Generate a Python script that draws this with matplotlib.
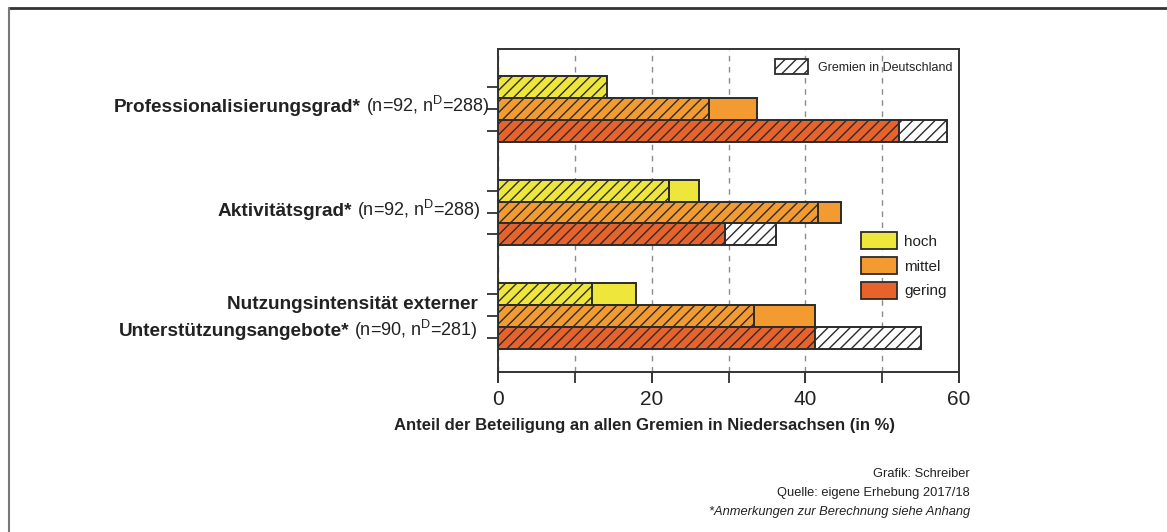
import matplotlib
matplotlib.use('Agg')
import matplotlib.pyplot as plt
from matplotlib.patches import Patch
from matplotlib.lines import Line2D

plt.rcParams['font.family'] = ['Liberation Sans', 'DejaVu Sans']
plt.rcParams['mathtext.fontset'] = 'custom'
plt.rcParams['mathtext.rm'] = 'Liberation Sans'
plt.rcParams['hatch.linewidth'] = 1.0

# data (in %)
levels = ['hoch', 'mittel', 'gering']
group_bold = ['Professionalisierungsgrad*', 'Aktivitätsgrad*', 'Unterstützungsangebote*']
group_reg = [' (n=92, n$^\\mathrm{D}$=288)', ' (n=92, n$^\\mathrm{D}$=288)', ' (n=90, n$^\\mathrm{D}$=281)']
nds = [[14.2, 33.7, 52.2],   # Niedersachsen
       [26.2, 44.7, 29.5],
       [17.9, 41.2, 41.2]]
de = [[14.2, 27.5, 58.4],    # Deutschland
      [22.2, 41.7, 36.2],
      [12.2, 33.3, 55.0]]

colors = ['#eee63a', '#f39b30', '#e8632c']
edge = '#2b2b2b'
bar_h = 0.21
hatch = '///'

W, H = 1167, 532
fig = plt.figure(figsize=(W / 100, H / 100), dpi=100)
ax = fig.add_axes([498 / W, 1 - 372 / H, (959 - 498) / W, (372 - 49) / H])

yticks = []
for g in range(3):
    for i in range(3):
        y = g + (i - 1) * bar_h
        yticks.append(y)
        n = nds[g][i]
        d = de[g][i]
        common = min(n, d)
        ax.barh(y, common, height=bar_h, color=colors[i], edgecolor=edge,
                linewidth=1.4, hatch=hatch, zorder=3)
        if n > d:
            ax.barh(y, n - d, left=d, height=bar_h, color=colors[i],
                    edgecolor=edge, linewidth=1.4, zorder=3)
        elif d > n:
            ax.barh(y, d - n, left=n, height=bar_h, color='white',
                    edgecolor=edge, linewidth=1.4, hatch=hatch, zorder=3)

ax.set_xlim(0, 60)
ax.set_ylim(2.54, -0.58)
ax.set_xticks([0, 20, 40, 60])
ax.set_xticks([10, 30, 50], minor=True)
ax.set_yticks(yticks)
ax.set_yticklabels([])
ax.xaxis.grid(True, which='both', linestyle=(0, (4, 4)), color='#8c8c8c', lw=1)
ax.set_axisbelow(True)
ax.tick_params(axis='both', which='both', length=8, width=1.3, color='#333333', direction='out')
ax.tick_params(axis='x', labelsize=15, pad=5, colors='#222222')
for s in ax.spines.values():
    s.set_color('#333333')
    s.set_linewidth(1.4)

# legends
leg1 = ax.legend(handles=[Patch(facecolor='white', edgecolor=edge, hatch=hatch, lw=1.3)],
                 labels=['Gremien in Deutschland'], loc='upper left',
                 bbox_to_anchor=(0.601, 0.969), frameon=False, fontsize=9,
                 handlelength=2.6, handleheight=1.5, handletextpad=0.8,
                 borderpad=0, borderaxespad=0)
for t in leg1.get_texts():
    t.set_color('#222222')
ax.add_artist(leg1)
leg2 = ax.legend(handles=[Patch(facecolor=c, edgecolor=edge, lw=1.3) for c in colors],
                 labels=levels, loc='upper left', bbox_to_anchor=(0.787, 0.432), frameon=False,
                 fontsize=11, handlelength=2.4, handleheight=1.33, handletextpad=0.45,
                 labelspacing=0.5, borderpad=0, borderaxespad=0)
for t in leg2.get_texts():
    t.set_color('#222222')

# category labels with bold + regular parts
renderer = fig.canvas.get_renderer()


def label(px_right, py, bold, regular=''):
    x = px_right / W
    y = 1 - py / H
    if regular:
        t = fig.text(x, y, regular, ha='right', va='baseline', fontsize=13, color='#222222')
        x = t.get_window_extent(renderer).x0 / W
    fig.text(x, y, bold, ha='right', va='baseline', fontsize=13.7, fontweight='bold', color='#222222')


label(490, 112, group_bold[0], group_reg[0])
label(481, 216, group_bold[1], group_reg[1])
label(478, 309, 'Nutzungsintensität externer')
label(478, 336, group_bold[2], group_reg[2])

fig.text(645 / W, 1 - 430 / H, 'Anteil der Beteiligung an allen Gremien in Niedersachsen (in %)',
         ha='center', va='baseline', fontsize=12, fontweight='bold', color='#222222')

fig.text(970 / W, 1 - 477 / H, 'Grafik: Schreiber', ha='right', va='baseline', fontsize=9.3, color='#222222')
fig.text(970 / W, 1 - 496 / H, 'Quelle: eigene Erhebung 2017/18', ha='right', va='baseline', fontsize=9.3, color='#222222')
fig.text(970 / W, 1 - 515 / H, '*Anmerkungen zur Berechnung siehe Anhang', ha='right', va='baseline',
         fontsize=9.3, style='italic', color='#222222')

# outer frame (top + left)
fig.add_artist(Line2D([9 / W, 1], [1 - 8 / H, 1 - 8 / H], color='#333333', lw=2))
fig.add_artist(Line2D([9 / W, 9 / W], [0, 1 - 8 / H], color='#777777', lw=1.5))

fig.savefig('out.png', dpi=100)
